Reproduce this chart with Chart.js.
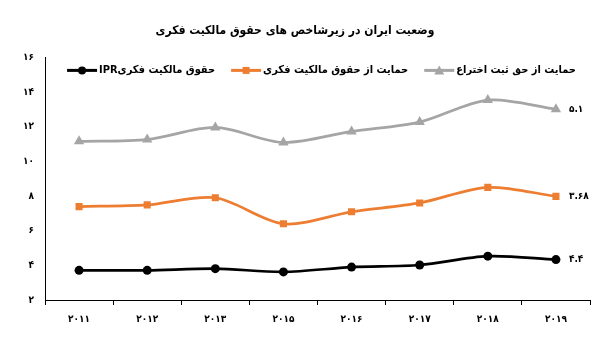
<!DOCTYPE html>
<html>
<head>
<meta charset="utf-8">
<script src="https://cdn.jsdelivr.net/npm/chart.js@4"></script>
<style>
  body { margin: 0; background: #fff; }
</style>
</head>
<body>
<canvas id="iprChart" width="610" height="354"></canvas>
<script>
const years = ['۲۰۱۱', '۲۰۱۲', '۲۰۱۳', '۲۰۱۵', '۲۰۱۶', '۲۰۱۷', '۲۰۱۸', '۲۰۱۹'];
const iprValues = [3.71, 3.71, 3.81, 3.62, 3.90, 4.02, 4.53, 4.33];
const ipProtection = [7.39, 7.49, 7.90, 6.40, 7.09, 7.60, 8.50, 7.98];
const patentProtection = [11.16, 11.26, 11.96, 11.09, 11.73, 12.27, 13.54, 13.01];
const seriesNames = ['IPRحقوق مالکیت فکری', 'حمایت از حقوق مالکیت فکری', 'حمایت از حق ثبت اختراع'];
const endLabels = ['۴.۴', '۳.۶۸', '۵.۱'];

const FONT = 'DejaVu Sans Condensed';
const faDigits = '۰۱۲۳۴۵۶۷۸۹';
const toFa = (n) => String(n).replace(/[0-9]/g, d => faDigits[d]);

const colors = ['#000000', '#ED7D31', '#A5A5A5'];
const styles = ['circle', 'rect', 'triangle'];

// line+marker sample, the way excel draws its legend keys
function drawKey(ctx, x, y, color, style) {
  ctx.save();
  ctx.strokeStyle = color; ctx.fillStyle = color; ctx.lineWidth = 3;
  ctx.beginPath(); ctx.moveTo(x, y); ctx.lineTo(x + 30, y); ctx.stroke();
  ctx.beginPath();
  const cx = x + 15;
  if (style === 'circle') ctx.arc(cx, y, 4, 0, Math.PI * 2);
  else if (style === 'rect') ctx.rect(cx - 3.5, y - 3.5, 7, 7);
  else { ctx.moveTo(cx, y - 5); ctx.lineTo(cx + 5, y + 4); ctx.lineTo(cx - 5, y + 4); ctx.closePath(); }
  ctx.fill();
  ctx.restore();
}

// legend sits inside the plot, between the 16 and 14 ticks
const innerLegend = {
  id: 'innerLegend',
  afterDraw(chart) {
    const ctx = chart.ctx;
    const area = chart.chartArea;
    ctx.save();
    ctx.font = 'bold 11px "' + FONT + '"';
    const widths = seriesNames.map(t => 32 + ctx.measureText(t).width);
    const gap = 16;
    const total = widths.reduce((a, b) => a + b, 0) + gap * (widths.length - 1);
    let x = (area.left + area.right) / 2 + 4 - total / 2;
    const y = area.top + 13;
    ctx.fillStyle = '#000';
    ctx.textAlign = 'left';
    ctx.textBaseline = 'middle';
    seriesNames.forEach((t, i) => {
      drawKey(ctx, x, y, colors[i], styles[i]);
      ctx.fillText(t, x + 32, y);
      x += widths[i] + gap;
    });
    ctx.restore();
  }
};

const endLabelPlugin = {
  id: 'endLabels',
  afterDatasetsDraw(chart) {
    const ctx = chart.ctx;
    chart.data.datasets.forEach((ds, i) => {
      const meta = chart.getDatasetMeta(i);
      const pt = meta.data[meta.data.length - 1];
      ctx.save();
      ctx.font = 'bold 10px "' + FONT + '"';
      ctx.fillStyle = '#000';
      ctx.textAlign = 'left';
      ctx.textBaseline = 'middle';
      ctx.fillText(endLabels[i], pt.x + 13, pt.y);
      ctx.restore();
    });
  }
};

const mkSet = (i, data, radius) => ({
  label: seriesNames[i],
  data: data,
  borderColor: colors[i],
  backgroundColor: colors[i],
  borderWidth: 2.75,
  pointStyle: styles[i],
  pointRadius: radius,
  pointBorderWidth: 0,
  tension: 0.3
});

new Chart(document.getElementById('iprChart').getContext('2d'), {
  type: 'line',
  data: {
    labels: years,
    datasets: [
      mkSet(0, iprValues, 4.5),
      mkSet(1, ipProtection, 5),
      mkSet(2, patentProtection, 6)
    ]
  },
  options: {
    responsive: false,
    animation: false,
    layout: { padding: { left: 0, right: 20, bottom: 21 } },
    plugins: {
      title: {
        display: true,
        text: 'وضعیت ایران در زیرشاخص های حقوق مالکیت فکری',
        color: '#000',
        font: { family: FONT, size: 12, weight: 'bold' },
        padding: { top: 24, bottom: 19 }
      },
      legend: { display: false },
      tooltip: { enabled: false }
    },
    scales: {
      x: {
        offset: true,
        grid: { offset: true, drawOnChartArea: false, tickLength: 5, color: '#000' },
        border: { color: '#000', width: 1 },
        ticks: { color: '#000', padding: 8, font: { family: FONT, size: 10, weight: 'bold' } }
      },
      y: {
        min: 2,
        max: 16,
        afterFit(axis) { axis.width = 45; },
        grid: { drawOnChartArea: false, drawTicks: false },
        border: { color: '#000', width: 1 },
        ticks: {
          stepSize: 2,
          padding: 11,
          color: '#000',
          font: { family: FONT, size: 10, weight: 'bold' },
          callback: (v) => toFa(v)
        }
      }
    }
  },
  plugins: [innerLegend, endLabelPlugin]
});
</script>
</body>
</html>
